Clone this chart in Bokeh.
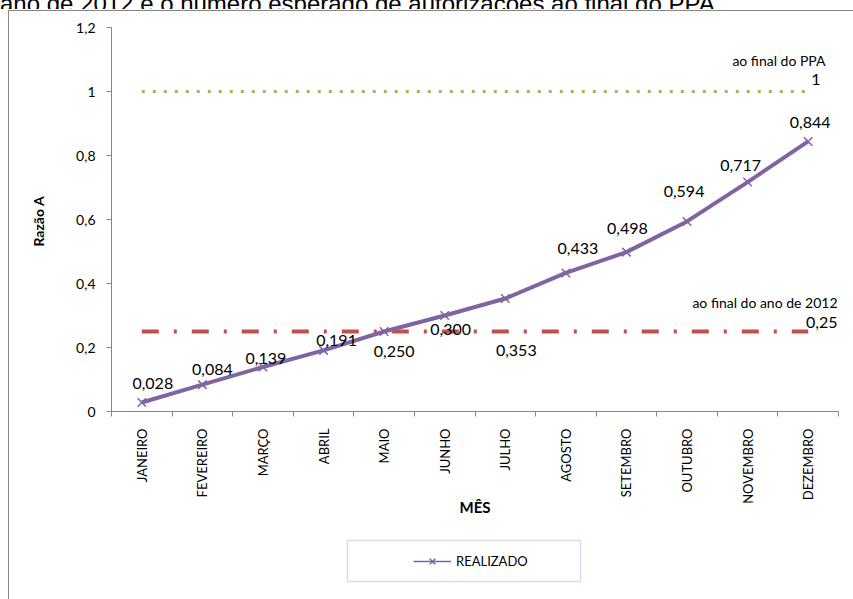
import math
from bokeh.plotting import figure
from bokeh.layouts import column
from bokeh.models import (FactorRange, Range1d, LinearAxis, FixedTicker, Div,
                          Legend, LegendItem, Label, BoxAnnotation, ColumnDataSource)
from bokeh.core.properties import value
from bokeh.embed import file_html
from bokeh.resources import INLINE

# ---------------- data ----------------
months = ["JANEIRO", "FEVEREIRO", "MARÇO", "ABRIL", "MAIO", "JUNHO",
          "JULHO", "AGOSTO", "SETEMBRO", "OUTUBRO", "NOVEMBRO", "DEZEMBRO"]
realizado = [0.028, 0.084, 0.139, 0.191, 0.250, 0.300,
             0.353, 0.433, 0.498, 0.594, 0.717, 0.844]
meta_ppa = [1, 1, 1, 1, 1, 1, 1, 1, 1, 1, 1, 1]
meta_2012 = [0.25, 0.25, 0.25, 0.25, 0.25, 0.25, 0.25, 0.25, 0.25, 0.25, 0.25, 0.25]
y_ticks = [0, 0.2, 0.4, 0.6, 0.8, 1.0, 1.2]
y_tick_labels = ["0", "0,2", "0,4", "0,6", "0,8", "1", "1,2"]
title_text = "ano de 2012 e o número esperado de autorizações ao final do PPA."
series_name = "REALIZADO"
ppa_note = "ao final do PPA"
note_2012 = "ao final do ano de 2012"
x_title = "MÊS"
y_title = "Razão  A"

# label offsets in pixels (styling only)
label_dx = [11, 10, 3, 13, 10, 6, 11, 12, 1, -3, -7, 2]
label_dy = [-19, -15, -8.5, -9.5, 19.5, 13.5, 52, -24, -24, -30, -17, -19]


def fmt3(v):
    return f"{v:.3f}".replace(".", ",")


def fmtg(v):
    return ("%g" % v).replace(".", ",")


FONT = "Lato"
AXIS_GREY = "#868686"
PURPLE = "#8064A2"
W = 853
FRAME_LEFT = 111   # plot frames in the column share this left edge


def border_css(top_y, height):
    imgs = ["linear-gradient(#868686, #868686)"]
    sizes = [f"1px {height}px"]
    poss = [f"8px {max(top_y, 0)}px"]
    if top_y >= 0:
        imgs.append("linear-gradient(#868686, #868686)")
        sizes.append(f"{W - 8}px 1px")
        poss.append(f"8px {top_y}px")
    return {"background-image": ", ".join(imgs),
            "background-size": ", ".join(sizes),
            "background-position": ", ".join(poss),
            "background-repeat": "no-repeat"}


def bare(fig):
    fig.outline_line_color = None
    fig.border_fill_color = None
    fig.background_fill_color = None
    fig.xgrid.visible = False
    fig.ygrid.visible = False


# ---------- strip with the cut-off caption (page y 0..9) ----------
cap = Div(text=('<div style="margin-top:-17px; line-height:24px; '
                "font-family:'Liberation Sans'; font-size:24px; color:#000; "
                f'white-space:nowrap;">{title_text}</div>'),
          width=W, height=9,
          styles={"overflow": "hidden", "margin": "0", "padding": "0"})

# ---------- main chart (page y 9..530) ----------
MAIN_H = 521
p = figure(width=W, height=MAIN_H,
           x_range=FactorRange(factors=months, range_padding=0),
           y_range=Range1d(0, 1.2),
           output_backend="svg", toolbar_location=None,
           x_axis_location=None, y_axis_location=None,
           min_border_left=FRAME_LEFT, min_border_right=15,
           min_border_top=18, min_border_bottom=119)
bare(p)
p.styles = border_css(1, MAIN_H)

centres = [i + 0.5 for i in range(len(months))]
bounds = list(range(len(months) + 1))
xaxis = LinearAxis(ticker=FixedTicker(ticks=centres, minor_ticks=bounds),
                   major_label_overrides={c: m for c, m in zip(centres, months)})
xaxis.axis_line_color = AXIS_GREY
xaxis.major_tick_line_color = None
xaxis.major_tick_out = 0
xaxis.major_tick_in = 0
xaxis.minor_tick_line_color = AXIS_GREY
xaxis.minor_tick_out = 5
xaxis.minor_tick_in = 0
xaxis.major_label_orientation = math.pi / 2
xaxis.major_label_standoff = 12
xaxis.major_label_text_font = FONT
xaxis.major_label_text_font_size = "13px"
xaxis.major_label_text_color = "#000000"
xaxis.axis_label = x_title
xaxis.axis_label_text_font = FONT
xaxis.axis_label_text_font_style = "bold"
xaxis.axis_label_text_font_size = "15px"
xaxis.axis_label_text_color = "#000000"
xaxis.axis_label_standoff = -9
p.add_layout(xaxis, "below")

yaxis = LinearAxis(ticker=FixedTicker(ticks=y_ticks, minor_ticks=[]),
                   major_label_overrides=dict(zip(y_ticks, y_tick_labels)))
yaxis.axis_line_color = AXIS_GREY
yaxis.major_tick_line_color = AXIS_GREY
yaxis.major_tick_out = 5
yaxis.major_tick_in = 0
yaxis.minor_tick_line_color = None
yaxis.major_label_standoff = 11
yaxis.major_label_text_font = FONT
yaxis.major_label_text_font_size = "14px"
yaxis.major_label_text_color = "#000000"
yaxis.axis_label = y_title
yaxis.axis_label_text_font = FONT
yaxis.axis_label_text_font_style = "bold"
yaxis.axis_label_text_font_size = "14px"
yaxis.axis_label_text_color = "#000000"
yaxis.axis_label_standoff = 26
p.add_layout(yaxis, "left")

src = ColumnDataSource(dict(month=months, realizado=realizado,
                            label=[fmt3(v) for v in realizado],
                            dx=label_dx, dy=label_dy,
                            ppa=meta_ppa, m2012=meta_2012))

p.line("month", "ppa", source=src, line_color="#9BBB59", line_width=3,
       line_dash="3 8")
p.line("month", "m2012", source=src, line_color="#C0504D", line_width=4,
       line_dash="17 15 3 15")
p.line("month", "realizado", source=src, line_color=PURPLE, line_width=4)
p.scatter("month", "realizado", source=src, marker="x", size=12,
          line_color=PURPLE, line_width=1.5)
p.text("month", "realizado", text="label", source=src,
       x_offset="dx", y_offset="dy", text_align="center",
       text_baseline="middle", text_font=value(FONT),
       text_font_size="16px", text_color="#000000")

for x, y, txt, size in [(714, 351, ppa_note, "14px"),
                        (709, 332, fmtg(meta_ppa[-1]), "16px"),
                        (726, 109, note_2012, "14px"),
                        (726, 89, fmtg(meta_2012[-1]), "16px")]:
    p.add_layout(Label(x=x, y=y, x_units="screen", y_units="screen", text=txt,
                       text_align="right", text_baseline="middle",
                       text_font=FONT, text_font_size=size,
                       text_color="#000000"))

# ---------- legend strip (page y 530..599) ----------
LEG_H = 69
lg = figure(width=W, height=LEG_H, x_range=Range1d(0, 1), y_range=Range1d(0, 1),
            output_backend="svg", toolbar_location=None,
            x_axis_location=None, y_axis_location=None, min_border=0)
bare(lg)
lg.styles = border_css(-1, LEG_H)
lg.add_layout(BoxAnnotation(left=347 - FRAME_LEFT, right=580 - FRAME_LEFT,
                            top=59, bottom=18,
                            left_units="screen", right_units="screen",
                            top_units="screen", bottom_units="screen",
                            fill_color=None, line_color="#7094C9",
                            line_width=1.5))
proxy = ColumnDataSource(dict(x=[float("nan")], y=[float("nan")]))
lp = lg.line("x", "y", source=proxy, line_color=PURPLE, line_width=1.5)
sp = lg.scatter("x", "y", source=proxy, marker="x", size=10,
                line_color=PURPLE, line_width=1.5)
legend = Legend(items=[LegendItem(label=series_name, renderers=[lp, sp])],
                location=(413 - FRAME_LEFT, 28.5), border_line_color=None,
                background_fill_alpha=0, padding=0, margin=0,
                glyph_width=38, glyph_height=20, label_height=20,
                label_standoff=5, label_text_font=FONT,
                label_text_font_size="13px", label_text_color="#000000")
lg.add_layout(legend, "center")

layout = column(cap, p, lg, spacing=0)
open("out.html", "w").write(file_html(layout, INLINE))
